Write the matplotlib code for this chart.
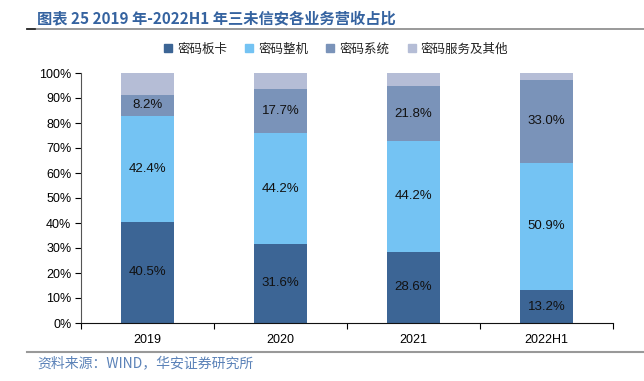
import matplotlib.pyplot as plt
import numpy as np
from matplotlib.lines import Line2D

plt.rcParams['font.family'] = ['Noto Sans CJK SC', 'DejaVu Sans']

years = ['2019', '2020', '2021', '2022H1']
series_names = ['密码板卡', '密码整机', '密码系统', '密码服务及其他']
board = [40.5, 31.6, 28.6, 13.2]
machine = [42.4, 44.2, 44.2, 50.9]
system = [8.2, 17.7, 21.8, 33.0]
other = [8.9, 6.5, 5.4, 2.9]

colors = ['#3c6595', '#74c3f3', '#7a93b9', '#b5bdd6']

fig = plt.figure(figsize=(6.44, 3.81), dpi=100)
ax = fig.add_axes([81 / 644, 1 - 323 / 381, 532 / 644, 250 / 381])

x = np.arange(len(years))
bottom = np.zeros(len(years))
values = [board, machine, system, other]
for name, vals, c in zip(series_names, values, colors):
    vals = np.array(vals)
    ax.bar(x, vals, 0.4, bottom=bottom, color=c, label=name, zorder=2)
    if name != '密码服务及其他':
        for xi, b, v in zip(x, bottom, vals):
            ax.text(xi, b + v / 2, f'{v:.1f}%', ha='center', va='center',
                    fontsize=9.5, family='Liberation Sans', color='#111111')
    bottom += vals

ax.set_xlim(-0.5, 3.5)
ax.set_ylim(0, 100)
ax.set_yticks(np.arange(0, 101, 10))
ax.set_yticklabels([f'{v}%' for v in range(0, 101, 10)], family='Liberation Sans', fontsize=9)
ax.set_xticks(x)
ax.set_xticklabels(years, family='Liberation Sans', fontsize=9)
ax.set_xticks([-0.5, 0.5, 1.5, 2.5, 3.5], minor=True)
ax.tick_params(axis='x', which='major', length=0, pad=8)
ax.tick_params(axis='x', which='minor', length=4, direction='out', width=0.8)
ax.tick_params(axis='y', length=4, direction='out', width=0.8, pad=3)
for s in ['top', 'right']:
    ax.spines[s].set_visible(False)
ax.spines['left'].set_color('#555555')
ax.spines['bottom'].set_color('#111111')

handles = [Line2D([], [], marker='s', linestyle='', markersize=6, color=c) for c in colors]
fig.legend(handles, series_names, loc='center', bbox_to_anchor=(336 / 644, 1 - 49 / 381),
           ncol=4, frameon=False, fontsize=9, handlelength=0.7, handletextpad=0.4,
           columnspacing=1.4, labelcolor='#222222')

# title and footer
fig.text(37 / 644, 1 - 18 / 381, '图表 25 2019 年-2022H1 年三未信安各业务营收占比',
         fontsize=11, fontweight='bold', color='#3563a0', va='center', ha='left')
fig.add_artist(Line2D([27 / 644, 1.0], [1 - 29 / 381] * 2, color='#888888', lw=1.2))
fig.add_artist(Line2D([27 / 644, 35 / 644], [1 - 29 / 381] * 2, color='#222222', lw=1.2))
fig.add_artist(Line2D([27 / 644, 1.0], [1 - 352 / 381] * 2, color='#999999', lw=1.5))
fig.text(37 / 644, 1 - 363 / 381, '资料来源：WIND，华安证券研究所',
         fontsize=10, color='#5b82b8', va='center', ha='left')

fig.savefig('out.png', dpi=100)
